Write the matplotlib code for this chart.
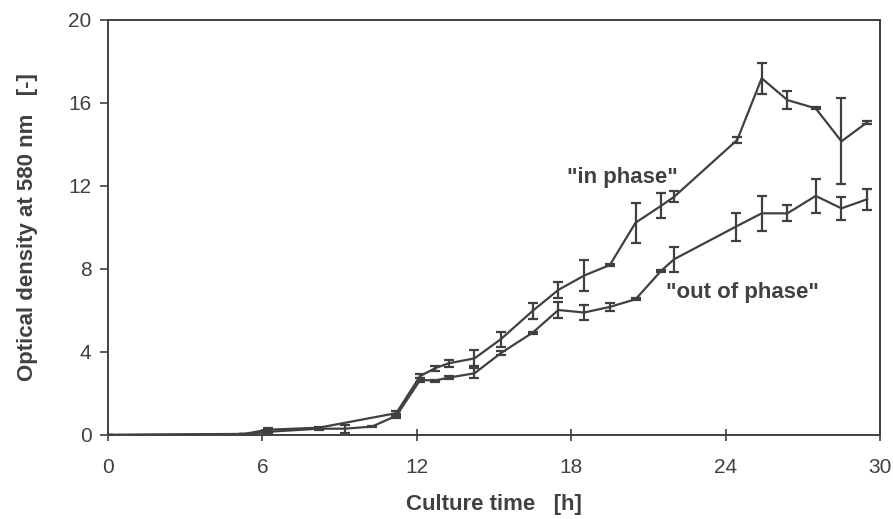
import matplotlib
matplotlib.use("Agg")
import matplotlib.pyplot as plt

# In phase
t_in = [0.0, 5.3, 6.2, 8.2, 11.2, 12.13, 12.7, 13.23, 14.24, 15.26, 16.5, 17.5, 18.5, 19.5,
        20.5, 21.5, 22.0, 24.45, 25.4, 26.4, 27.5, 28.5, 29.5]
od_in = [0.0, 0.05, 0.25, 0.35, 1.05, 2.84, 3.21, 3.45, 3.69, 4.61, 5.98, 6.99, 7.68, 8.19,
         10.23, 11.05, 11.48, 14.22, 17.19, 16.14, 15.74, 14.15, 15.07]
err_in = [0.0, 0.0, 0.08, 0.05, 0.12, 0.1, 0.12, 0.18, 0.38, 0.36, 0.38, 0.4, 0.76, 0.05,
          0.96, 0.59, 0.26, 0.15, 0.75, 0.43, 0.05, 2.07, 0.07]

# Out of phase
t_out = [0.0, 5.3, 6.2, 8.2, 9.2, 10.25, 11.2, 12.13, 12.7, 13.23, 14.24, 15.26, 16.5, 17.5,
         18.5, 19.5, 20.5, 21.5, 22.0, 24.4, 25.4, 26.4, 27.5, 28.5, 29.5]
od_out = [0.0, 0.03, 0.15, 0.3, 0.3, 0.4, 0.92, 2.65, 2.62, 2.76, 2.97, 3.94, 4.93, 6.02,
          5.9, 6.17, 6.54, 7.92, 8.47, 10.04, 10.68, 10.68, 11.52, 10.92, 11.36]
err_out = [0.0, 0.0, 0.08, 0.05, 0.2, 0.04, 0.1, 0.08, 0.05, 0.06, 0.24, 0.1, 0.05, 0.38,
           0.35, 0.2, 0.05, 0.05, 0.6, 0.68, 0.84, 0.38, 0.83, 0.55, 0.5]

x_ticks = [0, 6, 12, 18, 24, 30]
y_ticks = [0, 4, 8, 12, 16, 20]

col = "#404040"
fam = "Liberation Sans"
fig = plt.figure(figsize=(8.93, 5.19), dpi=100)
ax = fig.add_axes([0.121, 0.162, 0.8645, 0.7995])

for t, y, e in [(t_in, od_in, err_in), (t_out, od_out, err_out)]:
    ax.errorbar(t, y, yerr=e, color=col, lw=1.6, elinewidth=1.6, capsize=3.5,
                capthick=1.6)

ax.set_xlim(0, 30)
ax.set_ylim(0, 20)
ax.set_xticks(x_ticks)
ax.set_yticks(y_ticks)
for s in ax.spines.values():
    s.set_color(col)
    s.set_linewidth(1.4)
ax.tick_params(axis="x", direction="inout", length=9, width=1.2, color=col,
               labelcolor=col, pad=12)
ax.tick_params(axis="y", direction="out", length=6, width=1.2, color=col,
               labelcolor=col, pad=6)
for lab in ax.get_xticklabels() + ax.get_yticklabels():
    lab.set_fontfamily(fam)
    lab.set_fontsize(15)

ax.set_xlabel("Culture time   [h]", fontsize=16, fontweight="bold", color=col,
              family=fam, labelpad=12)
ax.set_ylabel("Optical density at 580 nm   [-]", fontsize=16, fontweight="bold",
              color=col, family=fam, labelpad=22)

ax.text(20.0, 12.4, '"in phase"', fontsize=16, fontweight="bold", color=col,
        family=fam, ha="center", va="center")
ax.text(24.65, 6.85, '"out of phase"', fontsize=16, fontweight="bold", color=col,
        family=fam, ha="center", va="center")

fig.savefig("out.png", dpi=100)
